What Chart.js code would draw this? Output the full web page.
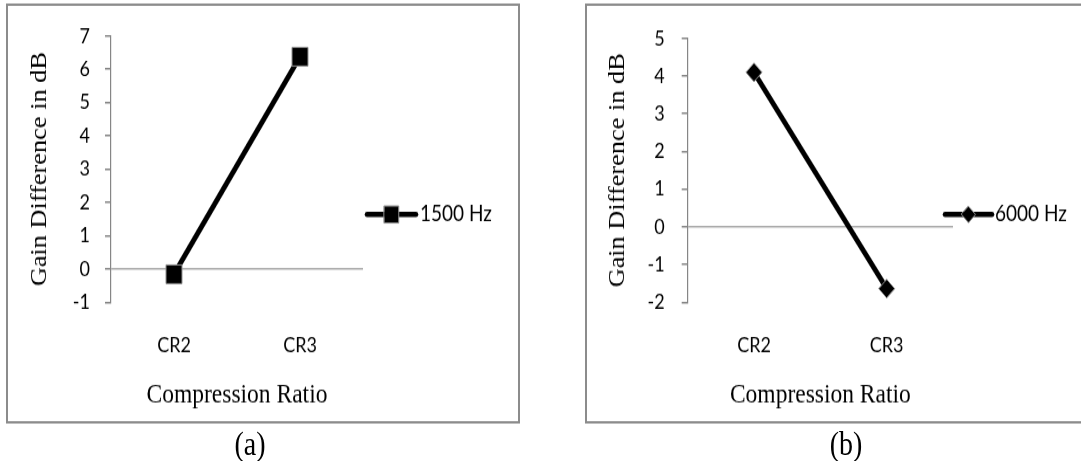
<!DOCTYPE html>
<html>
<head>
<meta charset="utf-8">
<script src="https://cdn.jsdelivr.net/npm/chart.js@4/dist/chart.umd.min.js"></script>
<style>
  html { overflow: hidden; background: #fff; }
  body { margin: 0; padding: 0; width: 1081px; height: 461px; background: #fff; }
  #sheet {
    position: relative; width: 1081px; height: 394px;
    transform: scaleY(1.17); transform-origin: 0 0;
  }
  .panel {
    position: absolute; top: 3.4px; height: 359px;
    box-sizing: border-box; border: 2px solid #8c8c8c; background: #fff; overflow: hidden;
  }
  .panel canvas { display: block; }
  .caption {
    position: absolute; top: 365px; width: 80px; text-align: center;
    font-family: "Liberation Serif", serif; font-size: 28px; line-height: 30px; color: #000;
  }
</style>
</head>
<body>
<div id="sheet">
  <div class="panel" style="left:6px; width:514px;"><canvas id="chartA" width="510" height="355"></canvas></div>
  <div class="panel" style="left:585px; width:520px;"><canvas id="chartB" width="516" height="355"></canvas></div>
  <div class="caption" style="left:210px;">(a)</div>
  <div class="caption" style="left:806px;">(b)</div>
</div>
<script>
// Categories and gain differences (dB) per frequency
const categories = ['CR2', 'CR3'];
const gain1500 = [-0.16, 6.38];
const gain6000 = [4.1, -1.64];

// Value-axis ranges
const yRangeA = [-1, 7];
const yRangeB = [-2, 5];

const tickFont = { family: 'Lato, "Open Sans", sans-serif', size: 18 };
const serifFont = '"Liberation Serif", "Times New Roman", serif';

// Draws the line-with-marker key to the right of the plot
const seriesKey = {
  id: 'seriesKey',
  afterDraw(chart, args, opts) {
    const ctx = chart.ctx;
    const ds = chart.data.datasets[0];
    const y = opts.y;
    ctx.save();
    ctx.strokeStyle = ds.borderColor;
    ctx.lineWidth = 4.5;
    ctx.lineCap = 'round';
    ctx.beginPath();
    ctx.moveTo(opts.x, y);
    ctx.lineTo(opts.x + opts.length, y);
    ctx.stroke();
    const cx = opts.x + opts.length / 2;
    const r = opts.markerSize / 2;
    ctx.fillStyle = ds.pointBackgroundColor;
    ctx.strokeStyle = ds.pointBorderColor;
    ctx.lineWidth = 1;
    ctx.beginPath();
    if (ds.pointStyle === 'rectRot') {
      ctx.moveTo(cx, y - r); ctx.lineTo(cx + r, y); ctx.lineTo(cx, y + r); ctx.lineTo(cx - r, y);
      ctx.closePath();
    } else {
      ctx.rect(cx - r, y - r, 2 * r, 2 * r);
    }
    ctx.fill();
    ctx.stroke();
    ctx.fillStyle = '#000';
    ctx.font = `${opts.fontSize}px ${tickFont.family}`;
    ctx.textBaseline = 'middle';
    ctx.textAlign = 'left';
    ctx.fillText(ds.label, opts.textX, y);
    ctx.restore();
  }
};

function makeChart(id, cfg) {
  const H = 355;
  return new Chart(document.getElementById(id), {
    type: 'line',
    data: {
      labels: categories,
      datasets: [{
        label: cfg.label,
        data: cfg.values,
        borderColor: '#000',
        borderWidth: 4.8,
        tension: 0,
        pointStyle: cfg.pointStyle,
        pointRadius: cfg.pointRadius,
        pointBackgroundColor: '#000',
        pointBorderColor: '#8f8f8f',
        pointBorderWidth: 1
      }]
    },
    options: {
      responsive: false,
      animation: false,
      events: [],
      layout: { padding: { top: 23.9, bottom: 0, left: 0, right: cfg.padRight } },
      plugins: {
        legend: { display: false },
        tooltip: { enabled: false },
        seriesKey: cfg.key
      },
      scales: {
        x: {
          offset: true,
          grid: { display: false, drawTicks: false },
          border: { display: false },
          ticks: { padding: 26.2, font: tickFont, color: '#000' },
          title: {
            display: true, text: 'Compression Ratio', color: '#000',
            font: { family: serifFont, size: 23.5 },
            padding: { top: 0, bottom: 7.9 }
          },
          afterFit: s => { s.height = H - 253.3; }
        },
        y: {
          min: cfg.range[0], max: cfg.range[1],
          ticks: { stepSize: 1, padding: cfg.tickPad, font: tickFont, color: '#000' },
          grid: {
            color: c => (c.tick && c.tick.value === 0) ? '#a9a9a9' : 'rgba(0,0,0,0)',
            tickColor: '#868686', tickLength: 6, lineWidth: 1.5
          },
          border: { color: '#868686', width: 1.2 },
          title: {
            display: true, text: 'Gain Difference in dB', color: '#000',
            font: { family: serifFont, size: 22.5 },
            padding: { top: cfg.titlePad, bottom: 0 }
          },
          afterFit: s => { s.width = cfg.left; }
        }
      }
    },
    plugins: [seriesKey]
  });
}

makeChart('chartA', {
  label: '1500 Hz', values: gain1500, range: yRangeA,
  pointStyle: 'rect', pointRadius: 11.3,
  left: 103, padRight: 155, tickPad: 15, titlePad: 18.5,
  key: { x: 359, length: 49, y: 178.3, markerSize: 14.5, textX: 412, fontSize: 19 }
});

makeChart('chartB', {
  label: '6000 Hz', values: gain6000, range: yRangeB,
  pointStyle: 'rectRot', pointRadius: 8,
  left: 100.7, padRight: 150, tickPad: 17, titlePad: 17.5,
  key: { x: 358, length: 47, y: 178.3, markerSize: 14, textX: 408, fontSize: 19 }
});
</script>
</body>
</html>
